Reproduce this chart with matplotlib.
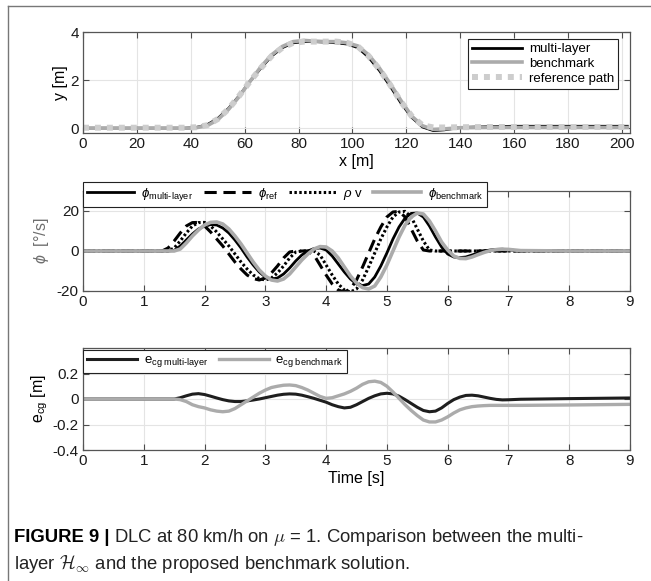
import matplotlib
matplotlib.use("Agg")
import matplotlib.pyplot as plt
from matplotlib.lines import Line2D

plt.rcParams['font.family'] = ['Liberation Sans', 'DejaVu Sans']
plt.rcParams['mathtext.fontset'] = 'custom'
plt.rcParams['mathtext.rm'] = 'Liberation Sans'
plt.rcParams['mathtext.it'] = 'Liberation Sans:italic'
plt.rcParams['mathtext.bf'] = 'Liberation Sans:bold'
plt.rcParams['axes.unicode_minus'] = False

# --- datos: trayectoria (panel superior) ---
x_m = [0, 10, 20, 30, 38, 42, 46, 50, 54, 58, 62, 66, 70, 74, 78, 82, 86, 90, 94,
       98, 102, 106, 110, 114, 118, 122, 126, 130, 134, 140, 150, 160, 170, 180, 190, 202]
y_ref = [0.02, 0.02, 0.02, 0.02, 0.02, 0.04, 0.12, 0.38, 0.8, 1.35, 1.95, 2.5, 3.0, 3.35, 3.55,
         3.6, 3.6, 3.6, 3.6, 3.55, 3.4, 3.0, 2.45, 1.8, 1.1, 0.5, 0.12, 0.03, 0.03, 0.04, 0.05,
         0.05, 0.05, 0.05, 0.05, 0.05]
y_multi = [0, 0, 0, 0, 0, 0.03, 0.14, 0.4, 0.82, 1.35, 1.95, 2.5, 3.0, 3.35, 3.55, 3.6, 3.6,
           3.58, 3.55, 3.5, 3.35, 2.95, 2.4, 1.75, 1.05, 0.45, 0.05, -0.1, -0.07, 0.03, 0.06,
           0.08, 0.08, 0.08, 0.08, 0.08]
y_bench = [0, 0, 0, 0, 0, 0.02, 0.1, 0.35, 0.78, 1.32, 1.95, 2.55, 3.05, 3.4, 3.6, 3.65, 3.62,
           3.6, 3.6, 3.55, 3.42, 3.05, 2.5, 1.85, 1.15, 0.5, 0.1, -0.05, -0.03, 0.02, 0.03,
           0.03, 0.03, 0.03, 0.03, 0.03]

# --- datos: tiempo (paneles 2 y 3) ---
t = [0, 1.0, 1.2, 1.3, 1.4, 1.5, 1.6, 1.7, 1.8, 1.9, 2.0, 2.1, 2.2, 2.3, 2.4, 2.5, 2.6, 2.7,
     2.8, 2.9, 3.0, 3.1, 3.2, 3.3, 3.4, 3.5, 3.6, 3.7, 3.8, 3.9, 4.0, 4.1, 4.2, 4.3, 4.4, 4.5,
     4.6, 4.7, 4.8, 4.9, 5.0, 5.1, 5.2, 5.3, 5.4, 5.5, 5.6, 5.7, 5.8, 5.9, 6.0, 6.1, 6.2, 6.3,
     6.4, 6.5, 6.6, 6.7, 6.8, 6.9, 7.0, 7.1, 7.2, 8.0, 9.0]

phi_ref = [0, 0, 0, 0, 1.5, 5, 9, 12.5, 14.2, 14.3, 12.5, 9.5, 6, 2.5, -1.5, -5.5, -9, -12,
           -13.8, -14.5, -13.5, -11, -7.5, -3.5, -0.5, 0, 0, 0, -2, -7, -12, -16.5, -19.5,
           -20.5, -19, -14.5, -8, -1, 6, 12, 17, 19.5, 19.8, 17, 11, 5, 0.5, 0, 0, 0, 0, 0,
           0, 0, 0, 0, 0, 0, 0, 0, 0, 0, 0, 0, 0]
rho_v = [0, 0, 0, 0, 0, 1.5, 5, 9, 12.5, 14.2, 14.3, 12.5, 9.5, 6, 2.5, -1.5, -5.5, -9, -12,
         -13.8, -14.5, -13.5, -11, -7.5, -3.5, -0.5, 0, 0, 0, -2, -7, -12, -16.5, -19.5,
         -20.5, -19, -14.5, -8, -1, 6, 12, 17, 19.5, 19.8, 17, 11, 5, 0.5, 0, 0, 0, 0, 0,
         0, 0, 0, 0, 0, 0, 0, 0, 0, 0, 0, 0]
phi_multi = [0, 0, 0, 0, 0, 0.3, 2.5, 5.5, 8.5, 11, 12.5, 13.2, 13, 11.5, 9, 5.5, 1.5, -3, -7,
             -10.5, -13, -14, -13.5, -11.5, -8.5, -5, -2, 0, 1.2, 1.5, 0.5, -2.5, -6.5, -10.5,
             -14, -16.5, -17.3, -16.5, -13, -7.5, -1, 6, 12, 16.5, 18.8, 19, 17, 12.5, 7, 2,
             -1.5, -3, -3.3, -3, -2, -1, 0, 0.5, 0.8, 0.9, 0.6, 0.3, 0.1, 0, 0]
phi_bench = [0, 0, 0, 0, 0, 0, 1, 4, 7.5, 10.5, 13, 14.3, 14.5, 13.5, 11, 7.5, 3.5, -1, -5.5,
             -9.5, -12.5, -14.5, -15, -14, -11.5, -8, -4.5, -1.5, 1, 2.2, 2, 0, -3.5, -8,
             -12.5, -16, -18.3, -19, -17.5, -13, -7, 0, 7, 13, 17, 19, 18.5, 15, 10, 4.5, 0.5,
             -2.5, -3.7, -3.8, -3, -1.8, -0.7, 0.2, 0.7, 0.9, 0.8, 0.5, 0.2, 0, 0]

ecg_multi = [0, 0, 0, 0, 0, 0, 0.01, 0.025, 0.038, 0.042, 0.035, 0.022, 0.008, -0.005, -0.015,
             -0.02, -0.02, -0.015, -0.008, 0, 0.01, 0.02, 0.03, 0.037, 0.04, 0.038, 0.03, 0.018,
             0.005, -0.01, -0.025, -0.045, -0.06, -0.07, -0.065, -0.045, -0.02, 0.005, 0.025,
             0.04, 0.045, 0.04, 0.022, -0.005, -0.035, -0.065, -0.09, -0.1, -0.095, -0.07,
             -0.035, -0.005, 0.015, 0.028, 0.03, 0.025, 0.015, 0.005, -0.003, -0.007, -0.006,
             -0.004, -0.002, 0.003, 0.008]
ecg_bench = [0, 0, 0, 0, 0, 0, -0.005, -0.02, -0.045, -0.06, -0.07, -0.085, -0.095, -0.1,
             -0.095, -0.075, -0.045, -0.015, 0.015, 0.045, 0.07, 0.09, 0.1, 0.108, 0.11, 0.105,
             0.09, 0.07, 0.045, 0.02, 0.005, 0.01, 0.025, 0.04, 0.06, 0.085, 0.115, 0.135, 0.14,
             0.13, 0.1, 0.055, 0.005, -0.045, -0.09, -0.13, -0.165, -0.18, -0.18, -0.165, -0.14,
             -0.11, -0.085, -0.07, -0.06, -0.055, -0.052, -0.05, -0.05, -0.05, -0.05, -0.05,
             -0.05, -0.047, -0.042]

BLACK = '#000000'
GRAY = '#ababab'
LIGHT = '#cdcdcd'

W, H = 651, 581
fig = plt.figure(figsize=(W / 100, H / 100), dpi=100)


def axes_px(left, top, right, bottom):
    return fig.add_axes([left / W, 1 - bottom / H, (right - left) / W, (bottom - top) / H])


def estilo(ax):
    ax.grid(True, color='#e4e4e4', linewidth=0.8)
    ax.set_axisbelow(True)
    ax.tick_params(direction='in', top=True, right=True, length=4, width=0.8, pad=3,
                   labelsize=11, colors='#4d4d4d', labelcolor='#1a1a1a')
    for s in ax.spines.values():
        s.set_color('#555555')
        s.set_linewidth(0.9)


def leyenda(ax, **kw):
    lg = ax.legend(fancybox=False, framealpha=1, edgecolor='#222222', fontsize=9.5,
                   borderaxespad=0, borderpad=0.3, labelspacing=0.2, handletextpad=0.5, **kw)
    lg.get_frame().set_linewidth(0.8)
    return lg


# Panel 1: trayectoria
ax1 = axes_px(83, 32, 630, 133)
ax1.plot(x_m, y_multi, color=BLACK, lw=2.0, label='multi-layer')
ax1.plot(x_m, y_bench, color=GRAY, lw=2.6, label='benchmark')
ax1.plot(x_m, y_ref, color=LIGHT, lw=4.3, linestyle=(0, (1, 1)),
         dash_capstyle='butt', label='reference path')
ax1.set_xlim(0, 203)
ax1.set_ylim(-0.2, 4)
ax1.set_xticks(range(0, 201, 20))
ax1.set_yticks([0, 2, 4])
ax1.set_xlabel('x [m]', fontsize=11.5, labelpad=2)
ax1.set_ylabel('y [m]', fontsize=11.5, labelpad=2)
estilo(ax1)
leyenda(ax1, loc='upper right', bbox_to_anchor=(0.978, 0.931), handlelength=3.8)

# Panel 2: velocidad de guiñada
ax2 = axes_px(83, 191, 630, 291)
ax2.plot(t, phi_multi, color=BLACK, lw=2.0, label=r'$\phi_{\text{multi-layer}}$')
ax2.plot(t, phi_ref, color=BLACK, lw=2.2, linestyle=(0, (4, 2.2)), label=r'$\phi_{\text{ref}}$')
ax2.plot(t, rho_v, color=BLACK, lw=2.2, linestyle=(0, (0.8, 0.8)), label=r'$\rho$ v')
ax2.plot(t, phi_bench, color=GRAY, lw=2.6, label=r'$\phi_{\text{benchmark}}$')
ax2.set_xlim(0, 9)
ax2.set_ylim(-20, 30)
ax2.set_xticks(range(0, 10))
ax2.set_yticks([-20, 0, 20])
ax2.set_ylabel(r'$\phi$  [°/s]', fontsize=11.5, labelpad=4, color='#6e6e6e')
estilo(ax2)
leyenda(ax2, loc='upper left', bbox_to_anchor=(0, 1.09), ncol=4, handlelength=3.6,
        columnspacing=0.8)

# Panel 3: error lateral
ax3 = axes_px(83, 348, 630, 450)
ax3.plot(t, ecg_multi, color='#1e1e1e', lw=2.2, label=r'e$_{\text{cg multi-layer}}$')
ax3.plot(t, ecg_bench, color=GRAY, lw=2.4, label=r'e$_{\text{cg benchmark}}$')
ax3.set_xlim(0, 9)
ax3.set_ylim(-0.4, 0.4)
ax3.set_xticks(range(0, 10))
ax3.set_yticks([-0.4, -0.2, 0, 0.2])
ax3.set_yticklabels(['-0.4', '-0.2', '0', '0.2'])
ax3.set_xlabel('Time [s]', fontsize=11.5, labelpad=2)
ax3.set_ylabel(r'e$_{\text{cg}}$ [m]', fontsize=11.5, labelpad=2)
estilo(ax3)
leyenda(ax3, loc='upper left', bbox_to_anchor=(0, 0.98), ncol=2, handlelength=3.8,
        columnspacing=0.8)

# Marco de la figura
fig.add_artist(Line2D([8 / W, 1], [1 - 6 / H, 1 - 6 / H], color='#777777', lw=1.0))
fig.add_artist(Line2D([8 / W, 8 / W], [0, 1 - 6 / H], color='#777777', lw=1.0))

# Pie de figura
cap_y1 = 1 - 537 / H
cap_y2 = 1 - 564 / H
tb = fig.text(14 / W, cap_y1, 'FIGURE 9 |', fontsize=13.3, fontweight='bold', va='center')
fig.canvas.draw()
bb = tb.get_window_extent()
fig.text(bb.x1 / W + 4 / W, cap_y1,
         r'DLC at 80 km/h on $\mu$ = 1. Comparison between the multi-',
         fontsize=13.3, va='center', math_fontfamily='cm', color='#222222')
fig.text(14 / W, cap_y2, r'layer $\mathcal{H}_{\infty}$ and the proposed benchmark solution.',
         fontsize=13.3, va='center', math_fontfamily='cm', color='#222222')

fig.savefig('out.png', dpi=100)
